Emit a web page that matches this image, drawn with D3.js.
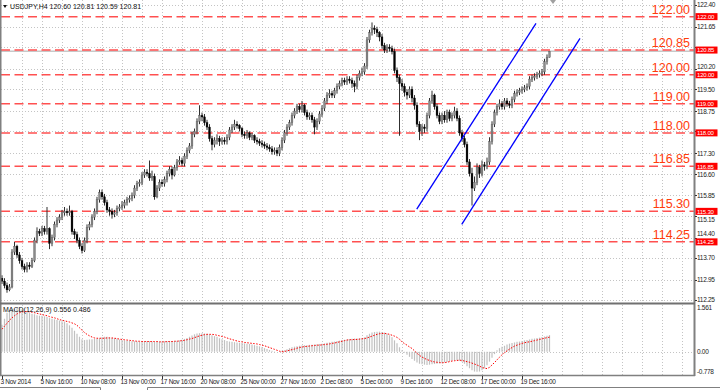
<!DOCTYPE html>
<meta charset="utf-8">
<head>
  <title>USDJPY,H4</title>
  <style>
    body { margin: 0; background: #fff; }
    svg { display: block; }
    text { font-family: "Liberation Sans", Arial, sans-serif; }
  </style>
</head>
<body>
<script src="https://cdn.jsdelivr.net/npm/d3@7"></script>
<script>
var WIDTH = 720,
    HEIGHT = 390;

// H4 bars, 3 Nov 2014 .. 23 Dec 2014 (open of each bar = previous close)
var firstOpen = 113.0;

var closes = [
  112.9, 112.75, 112.6, 112.7, 113.9, 114.1, 113.8, 113.6, 113.4, 113.3,
  113.45, 113.4, 113.6, 114.3, 114.6, 114.55, 114.7, 114.6, 114.7, 114.2,
  114.4, 114.85, 115.0, 115.1, 115.25, 115.3, 115.25, 115.3, 114.6, 114.5,
  114.3, 114.1, 113.95, 114.3, 114.75, 114.85, 115.1, 115.3, 115.7, 115.95,
  115.8, 115.6, 115.35, 115.3, 115.2, 115.25, 115.4, 115.45, 115.5, 115.6,
  115.7, 115.75, 115.85, 116.1, 116.25, 116.3, 116.55, 116.65, 116.6, 116.45,
  116.5, 115.8, 116.1, 116.3, 116.25, 116.4, 116.6, 116.75, 116.55, 116.8,
  117.0, 117.05, 116.95, 117.2, 117.4, 117.55, 117.95, 118.05, 118.4, 118.6,
  118.55, 118.35, 118.2, 117.8, 117.6, 117.75, 117.8, 117.7, 117.75, 117.7,
  117.85, 118.1, 118.2, 118.3, 118.25, 118.15, 117.95, 117.9, 118.0, 117.85,
  117.9, 117.75, 117.7, 117.65, 117.6, 117.55, 117.5, 117.45, 117.35, 117.4,
  117.3, 117.5, 117.75, 118.0, 118.2, 118.35, 118.6, 118.75, 118.9, 118.8,
  118.95, 118.7, 118.55, 118.6, 118.45, 118.2, 118.4, 118.65, 118.85, 119.1,
  119.3, 119.35, 119.3, 119.45, 119.6, 119.7, 119.8, 119.75, 119.85, 119.8,
  119.7, 119.6, 119.9, 120.05, 120.1, 120.3, 121.2, 121.45, 121.6, 121.55,
  121.45, 121.3, 121.0, 120.85, 120.95, 120.9, 120.8, 120.15, 119.9, 119.7,
  119.6, 119.4, 119.3, 119.5, 119.2, 118.95, 118.3, 118.05, 118.2, 118.15,
  118.6, 119.1, 119.3, 118.9, 118.6, 118.4, 118.6, 118.45, 118.7, 118.5,
  118.6, 118.75, 118.5, 118.0, 117.8, 117.6, 117.0, 116.6, 116.1, 116.3,
  116.8, 116.6, 116.9, 116.85, 117.0, 117.7, 118.3, 118.7, 118.9, 119.0,
  118.9, 119.1, 119.0, 118.95, 119.15, 119.35, 119.4, 119.45, 119.5, 119.55,
  119.6, 119.85, 119.9, 119.95, 120.0, 120.05, 120.1, 120.45, 120.6, 120.81
];

var highs = [
  113.1, 113.0, 112.85, 112.8, 114.0, 114.25, 114.15, 113.9, 113.7, 113.5,
  113.55, 113.55, 113.7, 114.4, 114.75, 114.7, 114.8, 114.8, 115.45, 114.75,
  114.5, 114.95, 115.1, 115.2, 115.35, 115.45, 115.4, 115.5, 115.35, 114.7,
  114.6, 114.4, 114.2, 114.4, 114.85, 114.95, 115.2, 115.4, 115.8, 116.05,
  116.05, 115.9, 115.7, 115.45, 115.4, 115.35, 115.5, 115.55, 115.65, 115.7,
  115.8, 115.85, 115.95, 116.2, 116.35, 116.4, 116.65, 116.75, 116.75, 117.05,
  116.7, 116.6, 116.2, 116.4, 116.4, 116.5, 116.7, 116.85, 116.85, 116.9,
  117.1, 117.2, 117.15, 117.3, 117.5, 117.65, 118.05, 118.15, 118.5, 118.95,
  118.7, 118.65, 118.45, 118.3, 117.9, 117.85, 117.95, 117.9, 117.85, 117.85,
  117.95, 118.2, 118.3, 118.45, 118.4, 118.3, 118.2, 118.05, 118.1, 118.05,
  118.0, 117.95, 117.85, 117.8, 117.75, 117.7, 117.65, 117.6, 117.55, 117.5,
  117.5, 117.6, 117.85, 118.1, 118.3, 118.45, 118.7, 118.85, 119.0, 119.0,
  119.1, 119.0, 118.8, 118.7, 118.7, 118.55, 118.5, 118.75, 118.95, 119.2,
  119.4, 119.5, 119.45, 119.55, 119.7, 119.8, 119.9, 119.9, 119.95, 119.95,
  119.9, 119.8, 120.0, 120.15, 120.25, 120.4, 121.3, 121.55, 121.8, 121.7,
  121.65, 121.5, 121.4, 121.1, 121.05, 121.05, 121.0, 120.9, 120.25, 120.0,
  119.85, 119.7, 119.5, 119.6, 119.6, 119.3, 119.05, 118.4, 118.3, 118.3,
  118.7, 119.2, 119.45, 119.35, 119.0, 118.7, 118.7, 118.75, 118.8, 118.8,
  118.7, 118.9, 118.85, 118.6, 118.1, 117.9, 117.7, 117.1, 116.8, 116.5,
  116.95, 116.9, 117.05, 117.0, 117.15, 117.85, 118.4, 118.8, 119.0, 119.15,
  119.1, 119.2, 119.2, 119.1, 119.25, 119.45, 119.5, 119.55, 119.6, 119.65,
  119.7, 119.95, 120.0, 120.05, 120.1, 120.15, 120.2, 120.55, 120.7, 120.81
];

var lows = [
  112.8, 112.65, 112.5, 112.55, 112.65, 113.8, 113.7, 113.5, 113.3, 113.2,
  113.2, 113.3, 113.35, 113.55, 114.2, 114.45, 114.45, 114.5, 114.5, 114.0,
  114.1, 114.3, 114.75, 114.9, 115.0, 115.15, 115.15, 115.15, 114.5, 114.35,
  114.2, 114.0, 113.85, 113.9, 114.2, 114.65, 114.75, 115.0, 115.2, 115.6,
  115.7, 115.5, 115.25, 115.15, 115.05, 115.1, 115.15, 115.3, 115.35, 115.4,
  115.5, 115.6, 115.65, 115.75, 116.0, 116.15, 116.2, 116.45, 116.5, 116.35,
  116.35, 115.7, 115.75, 116.0, 116.15, 116.15, 116.3, 116.5, 116.4, 116.5,
  116.7, 116.9, 116.85, 116.85, 117.1, 117.3, 117.45, 117.85, 117.95, 118.3,
  118.4, 118.25, 118.1, 117.7, 117.4, 117.5, 117.6, 117.55, 117.6, 117.6,
  117.6, 117.75, 118.0, 118.1, 118.15, 118.05, 117.85, 117.8, 117.8, 117.75,
  117.75, 117.65, 117.6, 117.55, 117.5, 117.45, 117.4, 117.35, 117.25, 117.25,
  117.2, 117.2, 117.4, 117.65, 117.9, 118.1, 118.25, 118.5, 118.65, 118.7,
  118.7, 118.6, 118.45, 118.45, 118.35, 117.95, 118.1, 118.3, 118.55, 118.75,
  119.0, 119.2, 119.2, 119.2, 119.35, 119.5, 119.6, 119.65, 119.65, 119.7,
  119.55, 119.4, 119.5, 119.8, 119.95, 120.0, 120.2, 121.1, 121.35, 121.4,
  121.3, 121.15, 120.9, 120.75, 120.75, 120.8, 120.7, 120.05, 119.75, 117.9,
  119.45, 119.25, 119.15, 119.2, 119.05, 118.8, 118.2, 117.75, 117.9, 118.0,
  118.05, 118.5, 119.0, 118.8, 118.5, 118.3, 118.3, 118.35, 118.35, 118.4,
  118.4, 118.5, 118.4, 117.9, 117.7, 117.5, 116.9, 116.5, 115.5, 116.0,
  116.2, 116.45, 116.5, 116.7, 116.75, 116.9, 117.6, 118.2, 118.6, 118.8,
  118.8, 118.8, 118.9, 118.85, 118.85, 119.05, 119.25, 119.3, 119.35, 119.4,
  119.45, 119.5, 119.75, 119.8, 119.85, 119.9, 119.95, 120.0, 120.35, 120.59
];

// MACD(12,26,9): main (histogram) and signal (dotted)
var macdMain = [
  0.9, 1.1, 1.3, 1.38, 1.42, 1.44, 1.45, 1.45, 1.42, 1.38,
  1.33, 1.3, 1.27, 1.25, 1.22, 1.2, 1.2, 1.18, 1.16, 1.12,
  1.1, 1.08, 1.06, 1.04, 1.02, 1.0, 0.95, 0.88, 0.8, 0.7,
  0.6, 0.5, 0.42, 0.39, 0.4, 0.41, 0.42, 0.43, 0.44, 0.45,
  0.48, 0.5, 0.5, 0.48, 0.46, 0.45, 0.43, 0.41, 0.39, 0.38,
  0.37, 0.36, 0.35, 0.35, 0.34, 0.34, 0.34, 0.35, 0.35, 0.35,
  0.34, 0.33, 0.33, 0.34, 0.34, 0.35, 0.35, 0.36, 0.36, 0.36,
  0.37, 0.38, 0.4, 0.43, 0.46, 0.5, 0.54, 0.58, 0.61, 0.62,
  0.62, 0.61, 0.6, 0.58, 0.55, 0.52, 0.5, 0.45, 0.42, 0.39,
  0.36, 0.34, 0.33, 0.32, 0.31, 0.3, 0.29, 0.28, 0.27, 0.26,
  0.24, 0.22, 0.2, 0.18, 0.15, 0.12, 0.09, 0.06, 0.03, 0.01,
  0.0, 0.01, 0.03, 0.05, 0.08, 0.12, 0.15, 0.17, 0.18, 0.2,
  0.21, 0.22, 0.22, 0.23, 0.23, 0.24, 0.25, 0.26, 0.27, 0.28,
  0.3, 0.31, 0.33, 0.34, 0.36, 0.37, 0.39, 0.4, 0.41, 0.42,
  0.43, 0.44, 0.44, 0.45, 0.46, 0.48, 0.55, 0.6, 0.64, 0.66,
  0.67, 0.67, 0.66, 0.64, 0.6, 0.55, 0.48, 0.38, 0.28, 0.15,
  0.05, -0.03, -0.1, -0.17, -0.24, -0.3, -0.36, -0.4, -0.42, -0.43,
  -0.44, -0.43, -0.42, -0.41, -0.4, -0.39, -0.38, -0.36, -0.34, -0.32,
  -0.3, -0.29, -0.29, -0.3, -0.33, -0.4, -0.48, -0.55, -0.62, -0.66,
  -0.67, -0.66, -0.62, -0.55, -0.45, -0.33, -0.2, -0.08, 0.05, 0.12,
  0.17, 0.2, 0.24, 0.27, 0.29, 0.31, 0.33, 0.34, 0.36, 0.38,
  0.39, 0.41, 0.43, 0.44, 0.46, 0.47, 0.49, 0.51, 0.53, 0.556
];

var macdSignal = [
  0.75, 0.85, 0.95, 1.05, 1.13, 1.2, 1.26, 1.3, 1.33, 1.34,
  1.34, 1.33, 1.32, 1.3, 1.28, 1.26, 1.24, 1.22, 1.2, 1.17,
  1.15, 1.13, 1.1, 1.07, 1.05, 1.03, 1.01, 0.99, 0.96, 0.93,
  0.88, 0.8, 0.72, 0.64, 0.58, 0.53, 0.49, 0.46, 0.45, 0.45,
  0.45, 0.45, 0.46, 0.46, 0.46, 0.45, 0.44, 0.42, 0.41, 0.4,
  0.39, 0.38, 0.37, 0.36, 0.35, 0.35, 0.34, 0.34, 0.34, 0.34,
  0.34, 0.34, 0.34, 0.33, 0.33, 0.33, 0.34, 0.34, 0.34, 0.35,
  0.35, 0.36, 0.37, 0.38, 0.4, 0.42, 0.44, 0.47, 0.5, 0.53,
  0.55, 0.57, 0.58, 0.58, 0.58, 0.57, 0.55, 0.53, 0.51, 0.49,
  0.46, 0.43, 0.41, 0.38, 0.36, 0.34, 0.33, 0.31, 0.3, 0.29,
  0.28, 0.27, 0.26, 0.24, 0.22, 0.2, 0.17, 0.14, 0.11, 0.08,
  0.05, 0.02, 0.0, 0.01, 0.03, 0.05, 0.07, 0.09, 0.12, 0.14,
  0.16, 0.17, 0.18, 0.19, 0.2, 0.21, 0.22, 0.22, 0.23, 0.24,
  0.25, 0.26, 0.28, 0.29, 0.31, 0.33, 0.35, 0.37, 0.39, 0.4,
  0.4, 0.41, 0.41, 0.42, 0.43, 0.44, 0.46, 0.49, 0.52, 0.55,
  0.58, 0.6, 0.61, 0.61, 0.6, 0.58, 0.55, 0.52, 0.48, 0.42,
  0.33, 0.27, 0.22, 0.16, 0.11, 0.03, -0.05, -0.12, -0.18, -0.22,
  -0.26, -0.29, -0.32, -0.34, -0.35, -0.36, -0.37, -0.36, -0.35, -0.33,
  -0.31, -0.3, -0.29, -0.28, -0.29, -0.31, -0.33, -0.35, -0.38, -0.41,
  -0.44, -0.48, -0.52, -0.55, -0.56, -0.52, -0.44, -0.36, -0.27, -0.18,
  -0.1, -0.03, 0.03, 0.09, 0.14, 0.19, 0.22, 0.25, 0.28, 0.3,
  0.32, 0.33, 0.35, 0.37, 0.39, 0.41, 0.43, 0.45, 0.47, 0.486
];

var levels = [122.00, 120.85, 120.00, 119.00, 118.00, 116.85, 115.30, 114.25];
var priceTicks = [122.40, 121.65, 120.95, 120.20, 119.50, 118.75, 118.05, 117.30,
                  116.60, 115.85, 115.15, 114.40, 113.70, 112.95, 112.25];
var macdTicks = [1.561, 0.00, -0.778];
var macdTickLabels = ["1.561", "0.00", "-0.778"];
var timeLabels = ["3 Nov 2014", "5 Nov 16:00", "10 Nov 08:00", "13 Nov 00:00",
                  "17 Nov 16:00", "20 Nov 08:00", "25 Nov 00:00", "27 Nov 16:00",
                  "2 Dec 08:00", "5 Dec 00:00", "9 Dec 16:00", "12 Dec 08:00",
                  "17 Dec 00:00", "19 Dec 16:00"];
var timeLabelBars = [0, 16, 32, 48, 64, 80, 96, 112, 128, 144, 160, 176, 192, 208];
// trend channel, [bar index, price]
var channelUpper = [[165.9, 115.38], [213.6, 121.77]];
var channelLower = [[183.9, 114.85], [231.2, 121.25]];
var bid = 120.81;

var candles = closes.map(function(c, i) {
  return { i: i, o: i === 0 ? firstOpen : closes[i - 1], h: highs[i], l: lows[i], c: c };
});

var x = d3.scaleLinear().domain([0, 277.2]).range([2, 695]);
var y = d3.scaleLinear().domain([112.25, 122.40]).range([300, 5]);
var ym = d3.scaleLinear().domain([-0.778, 1.561]).range([375.1, 304.9]);

var svg = d3.select("body").append("svg")
    .attr("width", WIDTH)
    .attr("height", HEIGHT);

var RIGHT = 694;

// vertical grid, every 8 bars
var gridBars = d3.range(8, 277, 8);
[[0, 302], [305, 375]].forEach(function(r) {
  svg.append("g").selectAll("line").data(gridBars).enter().append("line")
    .attr("x1", function(d) { return Math.round(x(d)) + 0.5; })
    .attr("x2", function(d) { return Math.round(x(d)) + 0.5; })
    .attr("y1", r[0]).attr("y2", r[1])
    .attr("stroke", "#c4c4c4")
    .attr("stroke-dasharray", "1,2");
});

// horizontal grid
svg.append("g").selectAll("line").data(priceTicks).enter().append("line")
  .attr("x1", 1).attr("x2", RIGHT)
  .attr("y1", function(d) { return Math.round(y(d)) + 0.5; })
  .attr("y2", function(d) { return Math.round(y(d)) + 0.5; })
  .attr("stroke", "#c4c4c4")
  .attr("stroke-dasharray", "1,2");

svg.append("line")
  .attr("x1", 1).attr("x2", RIGHT)
  .attr("y1", Math.round(ym(0)) + 0.5).attr("y2", Math.round(ym(0)) + 0.5)
  .attr("stroke", "#c4c4c4")
  .attr("stroke-dasharray", "1,2");

// bid line
svg.append("line")
  .attr("x1", 1).attr("x2", RIGHT)
  .attr("y1", y(bid)).attr("y2", y(bid))
  .attr("stroke", "#c8c8c8")
  .attr("stroke-width", 1.5);

// support / resistance levels
svg.append("g").selectAll("line").data(levels).enter().append("line")
  .attr("x1", 1).attr("x2", RIGHT)
  .attr("y1", function(d) { return y(d); })
  .attr("y2", function(d) { return y(d); })
  .attr("stroke", "#ff5050")
  .attr("stroke-width", 1.5)
  .attr("stroke-dasharray", "9,4.5");

// candles
var cg = svg.append("g");
cg.selectAll("line").data(candles).enter().append("line")
  .attr("x1", function(d) { return x(d.i); })
  .attr("x2", function(d) { return x(d.i); })
  .attr("y1", function(d) { return y(d.h); })
  .attr("y2", function(d) { return y(d.l); })
  .attr("stroke", "#303030")
  .attr("stroke-width", 1);

cg.selectAll("rect").data(candles).enter().append("rect")
  .attr("x", function(d) { return x(d.i) - 0.9; })
  .attr("width", 1.8)
  .attr("y", function(d) { return y(Math.max(d.o, d.c)); })
  .attr("height", function(d) { return Math.max(0.8, Math.abs(y(d.o) - y(d.c))); })
  .attr("fill", function(d) { return d.c >= d.o ? "#8a8a8a" : "#000"; })
  .attr("stroke", function(d) { return d.c >= d.o ? "#606060" : "#000"; })
  .attr("stroke-width", 0.4);

// channel
[channelUpper, channelLower].forEach(function(ln) {
  svg.append("line")
    .attr("x1", x(ln[0][0])).attr("y1", y(ln[0][1]))
    .attr("x2", x(ln[1][0])).attr("y2", y(ln[1][1]))
    .attr("stroke", "#0000ff")
    .attr("stroke-width", 1.3);
});

// level captions
svg.append("g").selectAll("text").data(levels).enter().append("text")
  .attr("x", 690)
  .attr("y", function(d) { return y(d) - 3; })
  .attr("text-anchor", "end")
  .attr("font-size", "12.5px")
  .attr("fill", "#ff3c0a")
  .text(function(d) { return d.toFixed(2); });

// MACD histogram
svg.append("g").selectAll("line").data(macdMain).enter().append("line")
  .attr("x1", function(d, i) { return x(i); })
  .attr("x2", function(d, i) { return x(i); })
  .attr("y1", ym(0))
  .attr("y2", function(d) { return ym(d); })
  .attr("stroke", "#c0c0c0")
  .attr("stroke-width", 1.2);

svg.append("path")
  .datum(macdSignal)
  .attr("fill", "none")
  .attr("stroke", "#ff0000")
  .attr("stroke-width", 1)
  .attr("stroke-dasharray", "1.5,1.5")
  .attr("d", d3.line().x(function(d, i) { return x(i); }).y(function(d) { return ym(d); }));

// frame
svg.append("line").attr("x1", 0.5).attr("x2", 0.5).attr("y1", 0).attr("y2", 376)
  .attr("stroke", "#808080").attr("stroke-width", 2);
svg.append("line").attr("x1", RIGHT + 0.5).attr("x2", RIGHT + 0.5).attr("y1", 0).attr("y2", 376)
  .attr("stroke", "#808080").attr("stroke-width", 2);
svg.append("line").attr("x1", 0).attr("x2", RIGHT + 1).attr("y1", 303.5).attr("y2", 303.5)
  .attr("stroke", "#707070").attr("stroke-width", 2);
svg.append("line").attr("x1", 0).attr("x2", RIGHT + 1).attr("y1", 375.5).attr("y2", 375.5)
  .attr("stroke", "#808080").attr("stroke-width", 1.5);

// chart shift marker
svg.append("path")
  .attr("d", "M" + (x(220.4) - 3) + ",0L" + (x(220.4) + 3) + ",0L" + x(220.4) + ",4Z")
  .attr("fill", "#a0a0a0");

// price axis
var axisFont = "6.5px";
svg.append("g").selectAll("line").data(priceTicks).enter().append("line")
  .attr("x1", RIGHT + 1).attr("x2", RIGHT + 3)
  .attr("y1", function(d) { return Math.round(y(d)) + 0.5; })
  .attr("y2", function(d) { return Math.round(y(d)) + 0.5; })
  .attr("stroke", "#333");

// tick labels that sit under a level box are hidden there; near ones are nudged clear
function labelY(d) {
  var ty = y(d);
  var near = levels.map(function(l) { return y(l); })
    .filter(function(ly) { return Math.abs(ly - ty) < 8; })[0];
  if (near === undefined) return ty;
  return ty > near ? near + 8 : near - 8;
}
var visibleTicks = priceTicks.filter(function(d) {
  return levels.every(function(l) { return Math.abs(y(l) - y(d)) >= 3.5; });
});

svg.append("g").selectAll("text").data(visibleTicks).enter().append("text")
  .attr("x", 697)
  .attr("y", function(d) { return labelY(d) + 2.3; })
  .attr("font-size", axisFont)
  .attr("letter-spacing", "-0.3px")
  .attr("fill", "#222")
  .text(function(d) { return d.toFixed(2); });

var boxes = svg.append("g").selectAll("g").data(levels).enter().append("g");
boxes.append("rect")
  .attr("x", 695.5)
  .attr("y", function(d) { return y(d) - 3.5; })
  .attr("width", 22)
  .attr("height", 7)
  .attr("fill", "#ff0000");
boxes.append("text")
  .attr("x", 697)
  .attr("y", function(d) { return y(d) + 2.2; })
  .attr("font-size", "6px")
  .attr("letter-spacing", "-0.2px")
  .attr("fill", "#fff")
  .text(function(d) { return d.toFixed(2); });

// MACD axis
svg.append("g").selectAll("text").data(macdTicks).enter().append("text")
  .attr("x", 697)
  .attr("y", function(d, i) { return i === 0 ? ym(d) + 5 : (i === 2 ? ym(d) - 1 : ym(d) + 2.3); })
  .attr("font-size", axisFont)
  .attr("letter-spacing", "-0.3px")
  .attr("fill", "#222")
  .text(function(d, i) { return macdTickLabels[i]; });

// time axis
svg.append("g").selectAll("line").data(timeLabelBars).enter().append("line")
  .attr("x1", function(d) { return Math.round(x(d)) + 0.5; })
  .attr("x2", function(d) { return Math.round(x(d)) + 0.5; })
  .attr("y1", 376).attr("y2", 379)
  .attr("stroke", "#333");

svg.append("g").selectAll("text").data(timeLabelBars).enter().append("text")
  .attr("x", function(d) { return x(d) - 1.5; })
  .attr("y", 383.5)
  .attr("font-size", axisFont)
  .attr("letter-spacing", "-0.3px")
  .attr("fill", "#222")
  .text(function(d, i) { return timeLabels[i]; });

// titles
svg.append("path").attr("d", "M3,5L7,5L5,8Z").attr("fill", "#111");
svg.append("text")
  .attr("x", 10).attr("y", 8.5)
  .attr("font-size", "7px")
  .attr("fill", "#111")
  .text("USDJPY,H4  120.60 120.81 120.59 120.81");

svg.append("text")
  .attr("x", 3).attr("y", 311.5)
  .attr("font-size", "7px")
  .attr("fill", "#111")
  .text("MACD(12,26,9) 0.556 0.486");

// tab strip
svg.append("path")
  .attr("d", "M0,387.5H100.5V390M147.5,390V387.5H720")
  .attr("fill", "none")
  .attr("stroke", "#808080");
</script>
</body>
